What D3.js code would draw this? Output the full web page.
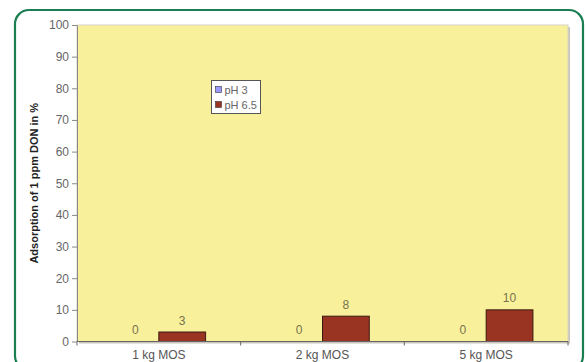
<!DOCTYPE html>
<html>
<head>
<meta charset="utf-8">
<script src="https://cdn.jsdelivr.net/npm/d3@7/dist/d3.min.js"></script>
<style>
  html, body { margin: 0; padding: 0; background: #fff; }
  svg { display: block; font-family: Arial, "Liberation Sans", sans-serif; }
</style>
</head>
<body>
<svg id="chart" width="586" height="362"></svg>
<script>
// Adsorption data
const categories = ["1 kg MOS", "2 kg MOS", "5 kg MOS"];
const seriesNames = ["pH 3", "pH 6.5"];
const pH3 = [0, 0, 0];
const pH65 = [3, 8, 10];
const yTicks = [0, 10, 20, 30, 40, 50, 60, 70, 80, 90, 100];
const colors = ["#9999ff", "#993322"];

const svg = d3.select("#chart");
const plot = { left: 77, top: 25, right: 568, bottom: 341.5 };
const FONT = "Arial, 'Liberation Sans', sans-serif";

// rounded green frame
svg.append("rect")
  .attr("x", 15).attr("y", 10)
  .attr("width", 568).attr("height", 360)
  .attr("rx", 14).attr("ry", 14)
  .attr("fill", "#fff")
  .attr("stroke", "#1b7d52")
  .attr("stroke-width", 2.2);

const x = d3.scaleBand().domain(categories).range([plot.left, plot.right]);
const xs = d3.scaleBand().domain(seriesNames)
  .range([0, x.bandwidth()]).paddingInner(0).paddingOuter(0.75);
const y = d3.scaleLinear().domain([0, 100]).range([plot.bottom, plot.top]);

// plot area shadow + fill
svg.append("rect")
  .attr("x", plot.left + 2).attr("y", plot.top + 2)
  .attr("width", plot.right - plot.left).attr("height", plot.bottom - plot.top)
  .attr("fill", "#c8c6bc");
svg.append("rect")
  .attr("x", plot.left).attr("y", plot.top)
  .attr("width", plot.right - plot.left).attr("height", plot.bottom - plot.top)
  .attr("fill", "#f9f09b")
  .attr("stroke", "#d6d3c4").attr("stroke-width", 1);

// bars and value labels
const series = [pH3, pH65];
series.forEach((vals, si) => {
  svg.append("g").selectAll("rect")
    .data(vals)
    .join("rect")
    .attr("x", (d, i) => x(categories[i]) + xs(seriesNames[si]))
    .attr("y", d => y(d))
    .attr("width", xs.bandwidth())
    .attr("height", d => y(0) - y(d))
    .attr("fill", colors[si])
    .attr("stroke", d => d > 0 ? "#3a1a10" : "none")
    .attr("stroke-width", 1);

  svg.append("g").selectAll("text")
    .data(vals)
    .join("text")
    .attr("x", (d, i) => x(categories[i]) + xs(seriesNames[si]) + xs.bandwidth() / 2)
    .attr("y", d => y(d) - 7.5)
    .attr("text-anchor", "middle")
    .attr("font-size", 12)
    .attr("fill", "#77734e")
    .text(d => d);
});

// y axis
const yAxis = svg.append("g")
  .attr("transform", `translate(${plot.left},0)`)
  .call(d3.axisLeft(y).tickValues(yTicks).tickSize(5).tickPadding(3).tickSizeOuter(0));
yAxis.select(".domain").attr("stroke", "#888");
yAxis.selectAll(".tick line").attr("stroke", "#888");
yAxis.selectAll(".tick text").attr("font-size", 12).attr("fill", "#666")
  .attr("font-family", FONT);

// x axis with ticks on category boundaries
const xAxisG = svg.append("g").attr("transform", `translate(0,${plot.bottom})`);
xAxisG.append("line")
  .attr("x1", plot.left).attr("x2", plot.right)
  .attr("stroke", "#666").attr("stroke-width", 1.2);
const boundaries = categories.map(c => x(c)).concat([x(categories[categories.length - 1]) + x.bandwidth()]);
xAxisG.selectAll("line.tk").data(boundaries).join("line")
  .attr("class", "tk")
  .attr("x1", d => d).attr("x2", d => d)
  .attr("y1", 0).attr("y2", 4)
  .attr("stroke", "#666");
xAxisG.selectAll("text").data(categories).join("text")
  .attr("x", d => x(d) + x.bandwidth() / 2)
  .attr("y", 17.5)
  .attr("text-anchor", "middle")
  .attr("font-size", 12)
  .attr("fill", "#555")
  .text(d => d);

// y title
svg.append("text")
  .attr("transform", `translate(37.5,${(plot.top + plot.bottom) / 2}) rotate(-90)`)
  .attr("text-anchor", "middle")
  .attr("font-size", 11)
  .attr("font-weight", "bold")
  .attr("fill", "#222")
  .text("Adsorption of 1 ppm DON in %");

// legend
const lg = svg.append("g").attr("transform", "translate(211.5,80.5)");
lg.append("rect").attr("width", 49).attr("height", 33)
  .attr("fill", "#fff").attr("stroke", "#555").attr("stroke-width", 1);
seriesNames.forEach((s, i) => {
  const row = lg.append("g").attr("transform", `translate(4,${6 + i * 15})`);
  row.append("rect").attr("width", 6).attr("height", 6)
    .attr("fill", colors[i]).attr("stroke", "#333").attr("stroke-width", 0.6);
  row.append("text").attr("x", 9).attr("y", 7)
    .attr("font-size", 11).attr("fill", "#666").text(s);
});
</script>
</body>
</html>
